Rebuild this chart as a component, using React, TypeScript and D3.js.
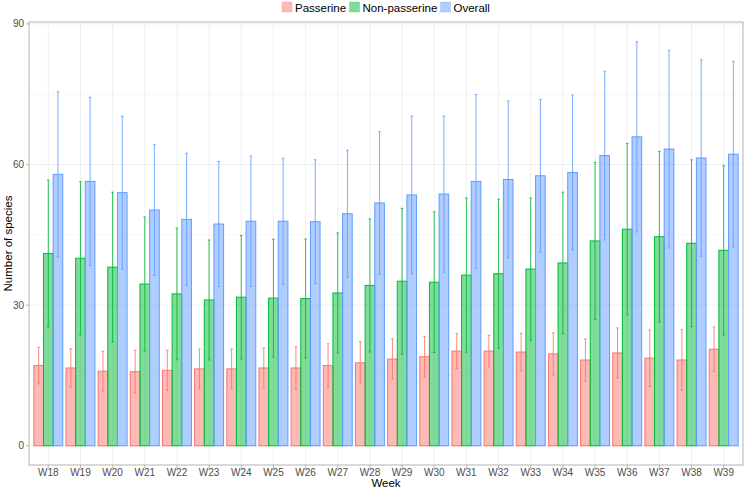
import { useEffect } from "react";
import * as d3 from "d3";

const weeks = [
  "W18", "W19", "W20", "W21", "W22", "W23", "W24", "W25", "W26", "W27", "W28",
  "W29", "W30", "W31", "W32", "W33", "W34", "W35", "W36", "W37", "W38", "W39",
];

const groups = ["Passerine", "Non-passerine", "Overall"];
const groupColors = ["#F8766D", "#00BA38", "#619CFF"];

// mean number of species per week
const passerineMean = [17.1, 16.6, 15.9, 15.8, 16.1, 16.4, 16.4, 16.6, 16.6, 17.1, 17.7, 18.5, 19.0, 20.2, 20.2, 20.0, 19.6, 18.3, 19.8, 18.7, 18.3, 20.6];
const nonPasserineMean = [41.0, 40.0, 38.1, 34.5, 32.4, 31.1, 31.7, 31.5, 31.4, 32.6, 34.2, 35.1, 34.9, 36.4, 36.7, 37.7, 39.0, 43.7, 46.2, 44.6, 43.2, 41.7];
const overallMean = [57.9, 56.4, 54.0, 50.3, 48.3, 47.3, 47.9, 47.9, 47.8, 49.5, 51.8, 53.5, 53.7, 56.4, 56.8, 57.6, 58.3, 61.9, 65.9, 63.3, 61.4, 62.2];

// standard deviations (error bars)
const passerineSd = [3.9, 4.1, 4.25, 4.55, 4.3, 4.25, 4.25, 4.25, 4.55, 4.65, 4.5, 4.3, 4.35, 3.75, 3.35, 4.0, 4.5, 4.5, 5.35, 6.0, 6.45, 4.75];
const nonPasserineSd = [15.65, 16.3, 16.0, 14.3, 14.05, 12.8, 13.15, 12.55, 12.7, 12.8, 14.2, 15.55, 15.0, 16.45, 15.9, 15.15, 15.1, 16.75, 18.3, 18.2, 17.8, 18.05];
const overallSd = [17.6, 17.95, 16.3, 13.95, 14.1, 13.35, 13.9, 13.45, 13.2, 13.55, 15.2, 16.85, 16.65, 18.55, 16.75, 16.3, 16.5, 18.0, 20.3, 21.1, 20.95, 19.8];

const yTicks = [0, 30, 60, 90];
const yMinorTicks = [15, 45, 75];

const means = [passerineMean, nonPasserineMean, overallMean];
const sds = [passerineSd, nonPasserineSd, overallSd];

const W = 745;
const H = 490;
const panel = { left: 29, right: 743, top: 22, bottom: 465 };
const FONT = "'Liberation Sans', Arial, sans-serif";

export default function App() {
  useEffect(() => {
    document.body.style.margin = "0";
  }, []);

  const x = d3
    .scaleBand<string>()
    .domain(weeks)
    .range([panel.left, panel.right])
    .paddingInner(0)
    .paddingOuter(0.1);

  const dodge = d3
    .scaleBand<string>()
    .domain(groups)
    .range([x.bandwidth() * 0.05, x.bandwidth() * 0.95]);

  const y = d3
    .scaleLinear()
    .domain([-4.1, 90.4])
    .range([panel.bottom, panel.top]);

  const bars = groups.flatMap((g, gi) =>
    weeks.map((w, wi) => ({
      group: g,
      gi,
      week: w,
      mean: means[gi][wi],
      sd: sds[gi][wi],
    }))
  );

  const cx = (w: string) => (x(w) ?? 0) + x.bandwidth() / 2;

  // legend layout
  const legendItems = [
    { label: groups[0], x: 282, tx: 295 },
    { label: groups[1], x: 349.5, tx: 362.5 },
    { label: groups[2], x: 440.5, tx: 453.5 },
  ];

  return (
    <svg width={W} height={H} style={{ display: "block", fontFamily: FONT }}>
      <rect width={W} height={H} fill="#fff" />

      {/* grid */}
      <g>
        {yMinorTicks.map((t) => (
          <line key={"mn" + t} x1={panel.left} x2={panel.right} y1={y(t)} y2={y(t)} stroke="#F3F3F3" strokeWidth={0.6} />
        ))}
        {yTicks.map((t) => (
          <line key={"mj" + t} x1={panel.left} x2={panel.right} y1={y(t)} y2={y(t)} stroke="#EBEBEB" strokeWidth={0.8} />
        ))}
        {weeks.map((w) => (
          <line key={"vg" + w} x1={cx(w)} x2={cx(w)} y1={panel.top} y2={panel.bottom} stroke="#EBEBEB" strokeWidth={0.8} />
        ))}
      </g>

      {/* bars */}
      <g>
        {bars.map((d) => (
          <rect
            key={d.group + d.week}
            x={(x(d.week) ?? 0) + (dodge(d.group) ?? 0)}
            y={y(d.mean)}
            width={dodge.bandwidth()}
            height={y(0) - y(d.mean)}
            fill={groupColors[d.gi]}
            fillOpacity={0.5}
            stroke={groupColors[d.gi]}
            strokeWidth={1}
          />
        ))}
      </g>

      {/* error bars */}
      <g>
        {bars.map((d) => {
          const bx = (x(d.week) ?? 0) + (dodge(d.group) ?? 0) + dodge.bandwidth() / 2;
          const lo = y(d.mean - d.sd);
          const hi = y(d.mean + d.sd);
          return (
            <g key={"e" + d.group + d.week} stroke={groupColors[d.gi]} strokeOpacity={0.85} strokeWidth={1}>
              <line x1={bx} x2={bx} y1={lo} y2={hi} />
              <line x1={bx - 1.3} x2={bx + 1.3} y1={lo} y2={lo} />
              <line x1={bx - 1.3} x2={bx + 1.3} y1={hi} y2={hi} />
            </g>
          );
        })}
      </g>

      {/* panel border */}
      <rect
        x={panel.left}
        y={panel.top}
        width={panel.right - panel.left}
        height={panel.bottom - panel.top}
        fill="none"
        stroke="#B3B3B3"
        strokeWidth={1}
      />

      {/* y axis */}
      <g>
        {yTicks.map((t) => (
          <g key={"yt" + t}>
            <line x1={panel.left - 3} x2={panel.left} y1={y(t)} y2={y(t)} stroke="#B3B3B3" />
            <text x={panel.left - 5} y={y(t)} dy="0.35em" textAnchor="end" fontSize={10} fill="#4D4D4D">
              {t}
            </text>
          </g>
        ))}
        <text
          transform={`translate(12,${(panel.top + panel.bottom) / 2}) rotate(-90)`}
          textAnchor="middle"
          fontSize={11.5}
          fill="#000"
        >
          Number of species
        </text>
      </g>

      {/* x axis */}
      <g>
        {weeks.map((w) => (
          <g key={"xt" + w}>
            <line x1={cx(w)} x2={cx(w)} y1={panel.bottom} y2={panel.bottom + 3} stroke="#B3B3B3" />
            <text x={cx(w)} y={panel.bottom + 11} textAnchor="middle" fontSize={10} fill="#4D4D4D">
              {w}
            </text>
          </g>
        ))}
        <text x={(panel.left + panel.right) / 2} y={487} textAnchor="middle" fontSize={11.5} fill="#000">
          Week
        </text>
      </g>

      {/* legend */}
      <g>
        {legendItems.map((it, i) => (
          <g key={"lg" + it.label}>
            <rect x={it.x} y={2} width={10} height={10} fill={groupColors[i]} fillOpacity={0.5} stroke={groupColors[i]} strokeOpacity={0.3} strokeWidth={0.8} />
            <text x={it.tx} y={11.5} fontSize={11.5} fill="#000">
              {it.label}
            </text>
          </g>
        ))}
      </g>
    </svg>
  );
}
